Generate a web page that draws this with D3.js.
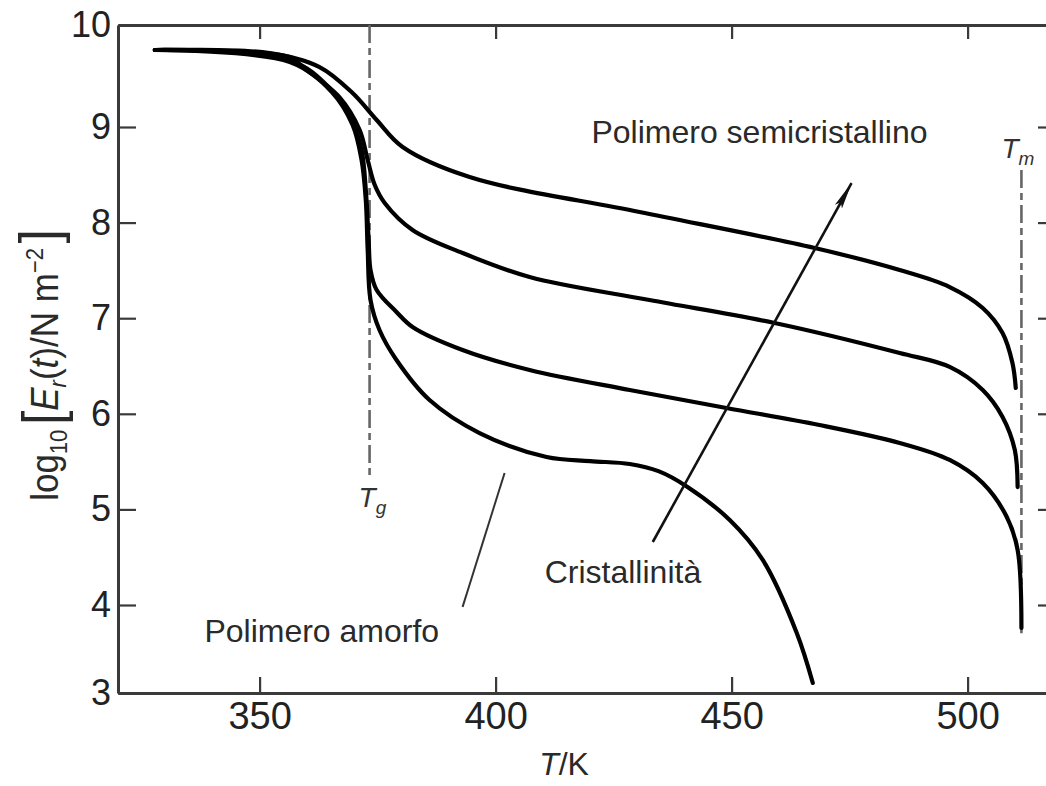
<!DOCTYPE html>
<html>
<head>
<meta charset="utf-8">
<script src="https://cdn.jsdelivr.net/npm/d3@7"></script>
<style>
  html, body { margin: 0; padding: 0; background: #fff; }
  svg { display: block; font-family: "Liberation Sans", Arial, sans-serif; }
</style>
</head>
<body>
<div id="chart"></div>
<script>
// log10 of the relaxation modulus vs temperature
// one temperature array + one value array per curve (top = most crystalline)
const tempHigh = [327.8, 352.1, 362.7, 369.7, 374.8, 380.3, 394.5, 430.5, 467.6, 485.6, 496.2, 503.2, 507.4, 509.5, 510.2];
const logEHigh = [9.755, 9.725, 9.588, 9.333, 9.069, 8.791, 8.477, 8.111, 7.734, 7.504, 7.326, 7.107, 6.845, 6.531, 6.270];

const tempMid = [327.8, 356.4, 359.1, 366.9, 371.2, 372.9, 374.4, 376.5, 382.4, 393.0, 407.2, 432.6, 459.1, 485.6, 496.2, 503.2, 507.4, 510.0, 510.6];
const logEMid = [9.755, 9.686, 9.588, 9.294, 8.969, 8.655, 8.393, 8.205, 7.923, 7.682, 7.431, 7.190, 6.950, 6.636, 6.490, 6.249, 5.967, 5.621, 5.234];

const tempLow = [327.8, 356.4, 364.8, 369.5, 371.6, 372.5, 373.1, 373.5, 374.8, 379.0, 382.4, 393.0, 407.2, 428.4, 448.9, 468.6, 485.6, 496.2, 503.2, 508.3, 510.6, 511.4];
const logELow = [9.755, 9.657, 9.382, 9.069, 8.759, 8.341, 7.818, 7.504, 7.295, 7.065, 6.908, 6.667, 6.458, 6.249, 6.061, 5.883, 5.695, 5.517, 5.276, 4.921, 4.575, 3.739];

const tempAmorph = [327.8, 356.4, 365.3, 369.7, 371.6, 372.5, 372.9, 373.5, 375.4, 379.0, 386.0, 396.6, 410.8, 420.0, 428.4, 434.5, 440.5, 449.6, 456.6, 463.8, 467.2];
const logEAmorph = [9.755, 9.637, 9.343, 9.020, 8.655, 8.236, 7.713, 7.190, 6.877, 6.563, 6.144, 5.799, 5.548, 5.505, 5.475, 5.400, 5.240, 4.889, 4.471, 3.682, 3.114];

// axis ticks
const xTicks = [350, 400, 450, 500];
const yTicks = [3, 4, 5, 6, 7, 8, 9, 10];

// reference temperatures (dash-dot markers) and their vertical extent
const tgLine = { T: 373.3, from: 10, to: 5.31 };
const tmLine = { T: 511.4, from: 8.55, to: 3.68 };

// annotation arrows: [T, logE] start -> end
const crystArrow = [[433.3, 4.659], [475.4, 8.414]];
const amorphPointer = [[401.9, 5.381], [393.0, 3.977]];

const width = 1046, height = 786;

const svg = d3.select("#chart").append("svg")
  .attr("width", width)
  .attr("height", height);

// x is plain linear, y follows the (slightly uneven) printed tick spacing
const x = d3.scaleLinear().domain([320, 516.5]).range([118, 1045.5]);
const y = d3.scaleLinear().domain([3, 4, 9, 10]).range([693, 605, 127, 25]);

const axisColor = "#3a3a3a";

// axes
const gLeft = svg.append("g")
  .attr("transform", `translate(${x(320)},0)`)
  .call(d3.axisLeft(y).tickValues(yTicks).tickSize(-18).tickSizeOuter(0).tickPadding(7).tickFormat(d3.format("d")));

const gBottom = svg.append("g")
  .attr("transform", `translate(0,${y(3)})`)
  .call(d3.axisBottom(x).tickValues(xTicks).tickSize(-16).tickSizeOuter(0).tickPadding(9));

const gTop = svg.append("g")
  .attr("transform", `translate(0,${y(10)})`)
  .call(d3.axisTop(x).tickValues(xTicks).tickSize(-14).tickSizeOuter(0).tickFormat(""));

const gRight = svg.append("g")
  .attr("transform", `translate(1048,0)`)
  .call(d3.axisRight(y).tickValues(yTicks.slice(1, -1)).tickSize(-10).tickSizeOuter(0).tickFormat(""));

[gLeft, gBottom, gTop, gRight].forEach(g => {
  g.select(".domain").attr("stroke", axisColor).attr("stroke-width", 3);
  g.selectAll(".tick line").attr("stroke", axisColor).attr("stroke-width", 2.2);
  g.selectAll(".tick text").attr("fill", "#222").attr("font-family", "Liberation Sans, Arial, sans-serif");
});
gLeft.selectAll(".tick text").attr("font-size", 36);
gBottom.selectAll(".tick text").attr("font-size", 38);

// dash-dot reference lines
[tgLine, tmLine].forEach(d => {
  svg.append("line")
    .attr("x1", x(d.T)).attr("x2", x(d.T))
    .attr("y1", y(d.from)).attr("y2", y(d.to))
    .attr("stroke", "#666")
    .attr("stroke-width", 2.6)
    .attr("stroke-dasharray", "18,5,7,5");
});

// curves
const line = d3.line()
  .x(d => x(d[0]))
  .y(d => y(d[1]))
  .curve(d3.curveCatmullRom.alpha(0.5));

const series = [
  [tempHigh, logEHigh],
  [tempMid, logEMid],
  [tempLow, logELow],
  [tempAmorph, logEAmorph]
];

svg.selectAll("path.curve")
  .data(series)
  .enter()
  .append("path")
  .attr("class", "curve")
  .attr("d", s => line(d3.zip(s[0], s[1])))
  .attr("fill", "none")
  .attr("stroke", "#000")
  .attr("stroke-width", 4.2)
  .attr("stroke-linecap", "round");

// crystallinity arrow
svg.append("defs").append("marker")
  .attr("id", "head")
  .attr("markerUnits", "userSpaceOnUse")
  .attr("viewBox", "0 -5 28 10")
  .attr("refX", 27)
  .attr("refY", 0)
  .attr("markerWidth", 28)
  .attr("markerHeight", 10)
  .attr("orient", "auto")
  .append("path")
  .attr("d", "M0,-4L28,0L0,4L5,0Z")
  .attr("fill", "#111");

svg.append("path")
  .attr("d", d3.line().x(d => x(d[0])).y(d => y(d[1]))(crystArrow))
  .attr("stroke", "#111")
  .attr("stroke-width", 2.6)
  .attr("marker-end", "url(#head)");

svg.append("path")
  .attr("d", d3.line().x(d => x(d[0])).y(d => y(d[1]))(amorphPointer))
  .attr("stroke", "#333")
  .attr("stroke-width", 2);

// text labels
const labels = [
  { text: "Polimero semicristallino", T: 420.3, v: 8.833 },
  { text: "Cristallinità", T: 410.4, v: 4.230 },
  { text: "Polimero amorfo", T: 338.3, v: 3.580 }
];

svg.selectAll("text.note")
  .data(labels)
  .enter()
  .append("text")
  .attr("class", "note")
  .attr("x", d => x(d.T))
  .attr("y", d => y(d.v))
  .attr("font-size", 32)
  .attr("fill", "#2a2a2a")
  .text(d => d.text);

// T_g and T_m
function tLabel(px, py, sub) {
  const t = svg.append("text")
    .attr("x", px).attr("y", py)
    .attr("font-size", 28)
    .attr("fill", "#333")
    .attr("font-style", "italic");
  t.append("tspan").text("T");
  t.append("tspan").attr("font-size", 19).attr("dy", 7).text(sub);
}
tLabel(x(tgLine.T) - 11, y(tgLine.to) + 27, "g");
tLabel(x(tmLine.T) - 20, y(tmLine.from) - 12, "m");

// x axis title
svg.append("text")
  .attr("x", x(414.5))
  .attr("y", 775)
  .attr("text-anchor", "middle")
  .attr("font-size", 32)
  .attr("fill", "#2a2a2a")
  .html('<tspan font-style="italic">T</tspan>/K');

// y axis title: log10[E_r(t)/N m^-2]
const yt = svg.append("text")
  .attr("transform", "translate(58,365) rotate(-90) scale(0.92,1)")
  .attr("text-anchor", "middle")
  .attr("font-size", 38)
  .attr("fill", "#2a2a2a");
yt.append("tspan").text("log");
yt.append("tspan").attr("font-size", 24).attr("dy", 9).text("10");
yt.append("tspan").attr("font-size", 56).attr("dy", -6).attr("dx", 5).text("[");
yt.append("tspan").attr("font-style", "italic").attr("dy", -3).text("E");
yt.append("tspan").attr("font-size", 24).attr("font-style", "italic").attr("dy", 8).text("r");
yt.append("tspan").attr("dy", -8).text("(");
yt.append("tspan").attr("font-style", "italic").text("t");
yt.append("tspan").text(")/N m");
yt.append("tspan").attr("font-size", 24).attr("dy", -15).text("−2");
yt.append("tspan").attr("font-size", 56).attr("dy", 15).attr("dx", 5).text("]");
</script>
</body>
</html>
